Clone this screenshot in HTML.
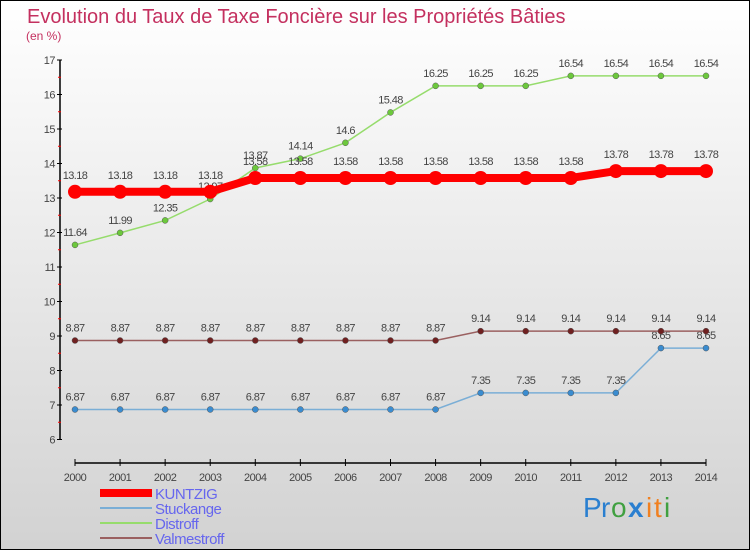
<!DOCTYPE html>
<html><head><meta charset="utf-8"><style>
body{margin:0}
#c{width:750px;height:550px;position:relative;box-sizing:border-box;border:1px solid #000;background:linear-gradient(#fff,#d2d2d2);overflow:hidden;font-family:"Liberation Sans",sans-serif}
</style></head><body>
<div id="c">
<svg id="s" width="750" height="550" style="position:absolute;left:-1px;top:-1px">
<text x="27" y="23" font-size="20" fill="#c4305f">Evolution du Taux de Taxe Foncière sur les Propriétés Bâties</text>
<text x="26" y="40" font-size="12" fill="#c4305f">(en %)</text>
</svg>
</div>
<script>
const years=[2000,2001,2002,2003,2004,2005,2006,2007,2008,2009,2010,2011,2012,2013,2014];
const kuntzig=[13.18,13.18,13.18,13.18,13.58,13.58,13.58,13.58,13.58,13.58,13.58,13.58,13.78,13.78,13.78];
const stuckange=[6.87,6.87,6.87,6.87,6.87,6.87,6.87,6.87,6.87,7.35,7.35,7.35,7.35,8.65,8.65];
const distroff=[11.64,11.99,12.35,12.97,13.87,14.14,14.6,15.48,16.25,16.25,16.25,16.54,16.54,16.54,16.54];
const valmestroff=[8.87,8.87,8.87,8.87,8.87,8.87,8.87,8.87,8.87,9.14,9.14,9.14,9.14,9.14,9.14];
const yTicks=[6,7,8,9,10,11,12,13,14,15,16,17];
const NS='http://www.w3.org/2000/svg';
const s=document.getElementById('s');
const X=i=>75+i*(706-75)/(years.length-1);
const Y=v=>60+(17-v)*34.5;
function el(t,a,p){const e=document.createElementNS(NS,t);for(const k in a)e.setAttribute(k,a[k]);(p||s).appendChild(e);return e;}
let ax=el('line',{x1:60,y1:Y(17),x2:60,y2:Y(6),stroke:'#000','stroke-width':1.5});


let xa=el('line',{x1:X(0),y1:463,x2:X(14),y2:463,stroke:'#000','stroke-width':1.5});


yTicks.forEach(v=>{
 el('line',{x1:57,y1:Y(v),x2:62,y2:Y(v),stroke:'#000'});
 if(v<17) el('line',{x1:58,y1:Y(v+0.5),x2:61,y2:Y(v+0.5),stroke:'#f00'});
 const t=el('text',{x:55,y:Y(v)+4,'font-size':11,fill:'#444','text-anchor':'end','letter-spacing':'-0.5'});t.textContent=v;
 
 
});
years.forEach((y,i)=>{
 el('line',{x1:X(i),y1:459,x2:X(i),y2:466,stroke:'#000'});
 const t=el('text',{x:X(i),y:481,'font-size':11,fill:'#444','text-anchor':'middle','letter-spacing':'-0.5'});t.textContent=y;
 
 
});
function series(name,vals,color,mark,lw,r,off){
 const g=el('g',{});
 
 
 el('polyline',{points:vals.map((v,i)=>X(i)+','+Y(v)).join(' '),fill:'none',stroke:color,'stroke-width':lw},g);
 vals.forEach((v,i)=>{
  const c=el('circle',{cx:X(i),cy:Y(v),r:r,fill:mark,stroke:r<5?'#555':'none','stroke-width':0.5},g);
  
  
  const t=el('text',{x:X(i),y:Y(v)-off,'font-size':11,fill:'#444','text-anchor':'middle','letter-spacing':'-0.6'},g);
  t.textContent=v;
  
  
 });
}
series('stuckange',stuckange,'#7aaed6','#3a8cd0',1.5,3,9);
series('valmestroff',valmestroff,'#9a6060','#702020',1.5,3,9);
series('distroff',distroff,'#96dc6c','#6cc83c',1.5,3,9);
series('kuntzig',kuntzig,'#f00','#f00',8,7,13);
const leg=[['KUNTZIG','#f00',8],['Stuckange','#7aaed6',2],['Distroff','#96dc6c',2],['Valmestroff','#9a6060',2]];
leg.forEach((l,i)=>{
 const g=el('g',{});
 
 
 const y=493+i*15;
 el('line',{x1:100,y1:y,x2:152,y2:y,stroke:l[1],'stroke-width':l[2]},g);
 const t=el('text',{x:155,y:y+6,'font-size':15,fill:'#6666ee','letter-spacing':'-0.5'},g);t.textContent=l[0];
});
const lg=el('g',{});


[['P','#2a7fd0'],['r','#2a7fd0'],['o','#40a040'],['x','#2a7fd0'],['i','#f08020'],['t','#f08020'],['i','#40a040']].forEach((c,i)=>{
 const t=el('text',{x:583+[0,18,28,45,63,71,81][i],y:517,'font-size':28,'font-weight':i==3?'bold':'normal',fill:c[1]},lg);t.textContent=c[0];
});
</script>
</body></html>
